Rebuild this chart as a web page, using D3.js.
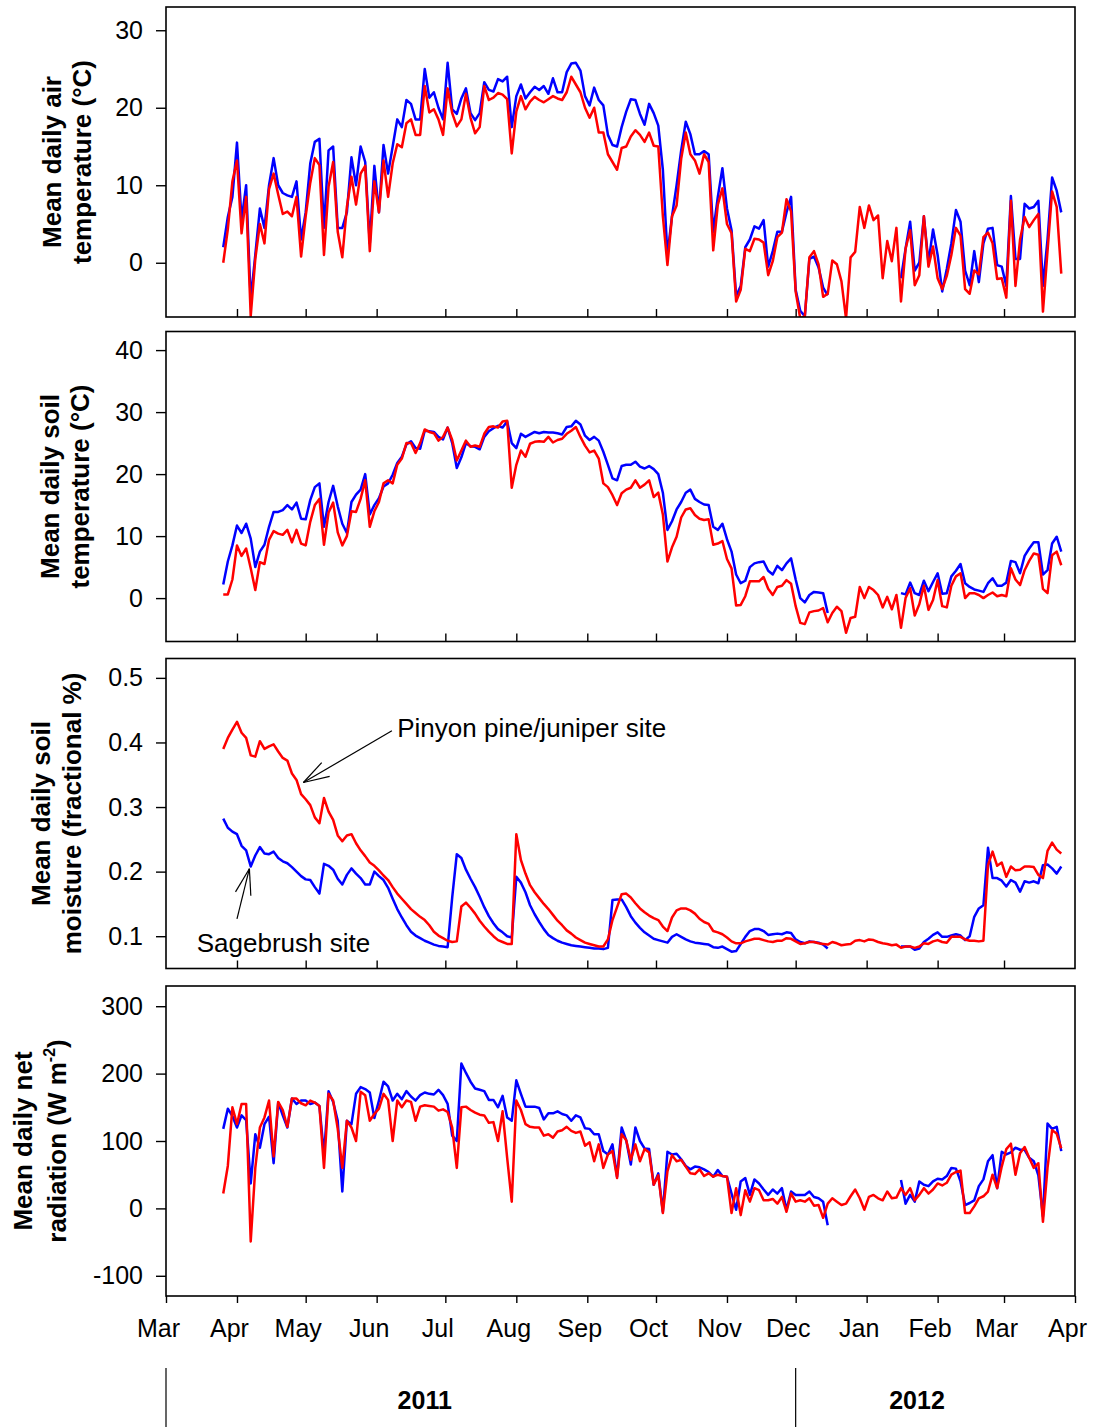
<!DOCTYPE html>
<html><head><meta charset="utf-8">
<script src="https://cdn.jsdelivr.net/npm/d3@7"></script>
<style>
body{margin:0;background:#fff}
text{font-family:"Liberation Sans",Arial,Helvetica,sans-serif;fill:#000}
</style>
</head><body>
<svg id="chart" width="1093" height="1427"></svg>
<script>
// ---- data: one value every 2 days, first day 2011-03-26 ----
const firstDay = [2011, 2, 26];
const stepDays = 2;

const airPJ = [0.0,4.3,10.5,13.2,3.8,8.5,-6.9,0.5,5.0,2.5,
9.5,11.5,8.8,6.3,6.6,6.0,8.5,0.8,6.0,10.3,
13.5,12.6,1.0,9.8,13.0,4.0,0.7,7.2,11.1,7.5,
11.5,12.5,1.5,10.5,6.5,13.2,8.5,12.8,15.3,14.9,
18.0,18.5,16.5,16.5,22.8,19.4,19.8,18.5,16.5,22.5,
19.3,17.6,18.5,21.8,18.7,16.7,17.5,22.8,21.0,21.3,
21.9,21.7,21.1,14.1,19.5,21.5,19.8,20.8,21.4,21.0,
20.7,21.1,21.5,21.2,21.0,22.0,24.0,23.0,22.0,20.0,
18.7,20.0,16.8,16.8,14.0,13.0,12.0,14.8,15.0,16.3,
17.1,16.5,15.6,16.8,15.1,15.0,6.0,-0.3,6.0,7.4,
13.4,16.8,14.0,13.2,11.5,14.0,13.0,1.6,7.5,9.6,
5.0,3.8,-5.0,-3.5,1.8,1.5,3.1,3.0,2.6,-1.6,
0.2,3.3,3.9,8.2,6.6,-3.7,-7.2,-6.9,0.7,1.5,
-0.2,-4.4,-4.0,0.3,-0.2,-2.4,-7.2,0.7,1.4,7.2,
4.5,7.4,5.5,6.1,-2.0,2.8,0.2,4.5,-5.0,1.8,
4.2,-2.9,-1.6,6.0,-0.5,2.1,-2.0,-3.4,-1.7,1.0,
4.5,3.5,-3.4,-4.0,-1.0,-1.5,3.3,3.9,2.5,-2.1,
-2.0,-4.5,8.0,-3.0,3.0,5.9,4.6,5.5,6.3,-6.3,
1.5,9.2,7.2,-1.4];

const airSB = [2.0,5.9,8.5,15.5,5.5,10.0,-4.8,1.0,7.0,4.5,
10.0,13.5,10.0,9.0,8.7,8.5,10.5,3.0,6.5,12.8,
15.6,16.0,4.5,14.5,15.0,4.5,4.5,6.5,13.6,10.0,
15.0,13.0,2.5,12.5,6.5,15.2,11.5,15.0,18.5,17.5,
21.0,20.5,18.5,18.5,25.0,21.3,22.0,20.0,18.5,25.8,
19.8,19.2,21.2,22.5,19.3,18.4,19.3,23.3,22.3,22.1,
23.7,23.4,24.0,17.5,21.5,23.0,21.2,22.0,22.7,22.3,
22.8,21.8,23.8,22.0,22.0,24.6,25.7,25.8,24.8,21.5,
20.3,22.6,21.0,20.3,16.5,15.2,15.0,17.5,19.5,21.1,
21.0,19.2,17.8,20.5,19.3,17.7,12.0,1.0,6.0,10.0,
14.5,18.2,16.6,14.0,14.0,14.4,14.0,4.0,8.5,12.2,
7.0,4.2,-4.3,-3.0,2.0,3.0,4.7,4.4,5.5,-0.5,
1.5,4.0,4.0,6.5,8.5,-3.5,-6.2,-6.9,0.5,0.8,
-0.6,-3.2,-4.2,null,null,null,null,null,null,null,
null,null,null,null,null,null,null,null,-2.0,1.8,
5.3,-1.0,0.0,6.0,0.0,4.3,1.0,-3.7,-0.8,2.5,
6.8,5.3,-1.0,-2.9,1.5,-2.5,2.5,4.4,4.5,-0.3,
-0.5,-3.0,8.6,0.5,0.5,7.6,7.0,7.2,8.0,-3.0,
3.0,11.0,9.3,6.5];

const soilTSB = [2.2,5.9,8.5,11.7,10.5,12.0,9.6,5.0,7.5,8.6,
11.5,13.9,13.9,14.2,15.0,14.3,15.4,12.8,12.7,15.8,
17.9,18.5,11.5,15.5,18.1,14.8,12.0,10.5,15.5,16.7,
17.5,20.0,13.5,15.0,16.1,18.0,18.5,19.9,21.8,22.8,
24.8,25.3,24.2,24.1,27.0,26.9,26.8,26.0,25.6,27.5,
25.0,21.0,22.7,25.0,24.5,24.4,24.0,26.0,26.9,27.4,
27.8,27.5,28.5,25.0,24.2,26.5,26.0,26.4,26.8,26.6,
26.8,26.7,26.7,26.6,26.4,27.6,27.7,28.6,28.0,26.2,
25.5,26.0,25.4,23.6,21.5,19.3,19.0,21.3,21.5,21.5,
22.0,21.2,20.9,21.3,20.8,20.0,17.0,11.0,12.4,14.3,
15.5,17.0,17.5,16.0,15.5,15.1,15.0,11.5,11.0,12.0,
9.5,7.5,3.8,2.4,2.8,5.0,5.6,5.8,5.9,4.4,
3.8,5.2,4.5,5.6,6.4,3.0,0.0,-0.7,0.5,1.0,
0.9,0.8,-2.4,null,null,null,null,null,null,null,
null,null,null,null,null,null,null,null,0.8,0.6,
2.5,0.8,0.5,2.8,1.1,2.6,4.0,0.7,0.8,3.5,
4.4,5.5,2.4,1.8,1.4,1.2,1.0,2.4,3.2,2.0,
2.0,2.5,6.0,5.8,4.0,6.8,8.0,9.0,9.0,3.8,
4.5,8.8,9.9,7.5];

const soilTPJ = [0.6,0.6,3.0,8.5,6.8,8.0,4.8,1.3,5.8,5.5,
9.4,10.8,10.4,10.2,11.0,9.0,11.0,8.8,8.5,12.3,
15.0,16.0,8.6,13.8,15.4,10.6,8.5,10.0,14.0,13.9,
16.0,19.0,11.5,14.0,15.5,18.5,19.0,18.5,21.5,22.5,
25.0,25.0,23.4,25.0,27.2,26.8,26.6,25.4,26.0,27.5,
25.5,22.2,23.8,25.4,24.4,24.6,24.4,26.5,27.6,27.7,
27.5,28.5,28.6,17.8,21.5,23.8,22.8,24.9,25.2,25.3,
25.2,26.0,25.1,25.5,25.7,26.5,27.0,27.6,26.0,24.6,
23.5,23.8,22.5,18.5,17.9,16.6,15.0,16.9,17.5,17.8,
19.0,17.8,18.3,19.0,16.3,17.0,13.5,5.9,8.2,9.9,
13.0,14.3,14.5,13.4,12.8,12.6,12.7,8.6,8.8,9.2,
6.3,4.8,-1.2,-1.1,0.3,2.7,2.7,2.7,3.4,1.5,
0.5,1.8,2.0,2.9,2.3,-1.3,-4.0,-4.2,-2.3,-2.1,
-2.0,-1.6,-3.9,-2.4,-1.4,-2.1,-5.6,-3.2,-3.0,1.8,
0.0,1.8,1.3,0.5,-1.5,0.2,-1.8,0.5,-4.8,0.0,
1.6,-2.8,-1.0,2.0,-1.9,-0.3,2.9,-1.3,-1.5,2.0,
3.5,4.0,0.0,0.8,0.8,0.5,0.0,0.5,0.9,0.3,
0.5,0.3,4.8,3.0,2.1,4.5,6.0,7.2,7.0,1.5,
0.8,6.9,7.5,5.3];

const moistSB = [0.282,0.268,0.262,0.258,0.240,0.233,0.208,0.225,0.238,0.228,
0.227,0.231,0.221,0.216,0.213,0.207,0.200,0.193,0.188,0.187,
0.176,0.166,0.212,0.209,0.203,0.189,0.180,0.195,0.205,0.197,
0.190,0.180,0.180,0.200,0.193,0.187,0.175,0.158,0.142,0.129,
0.117,0.107,0.101,0.097,0.093,0.090,0.087,0.085,0.084,0.083,
0.160,0.227,0.221,0.203,0.189,0.176,0.161,0.145,0.131,0.120,
0.111,0.106,0.100,0.098,0.192,0.183,0.168,0.148,0.134,0.122,
0.111,0.102,0.097,0.093,0.090,0.088,0.086,0.085,0.084,0.083,
0.082,0.081,0.081,0.080,0.082,0.156,0.157,0.157,0.145,0.131,
0.121,0.113,0.106,0.101,0.096,0.094,0.092,0.090,0.099,0.103,
0.099,0.095,0.092,0.090,0.089,0.088,0.087,0.083,0.082,0.084,
0.080,0.076,0.077,0.088,0.099,0.108,0.111,0.111,0.108,0.102,
0.103,0.104,0.103,0.106,0.105,0.095,0.091,0.089,0.092,0.091,
0.090,0.087,0.081,null,null,null,null,null,null,null,
null,null,null,null,null,null,null,null,0.084,0.084,
0.084,0.079,0.081,0.091,0.096,0.102,0.106,0.099,0.099,0.101,
0.103,0.101,0.094,0.100,0.130,0.143,0.148,0.237,0.190,0.190,
0.186,0.177,0.187,0.183,0.169,0.185,0.183,0.185,0.182,0.210,
0.211,0.205,0.197,0.208];

const moistPJ = [0.390,0.407,0.420,0.432,0.415,0.407,0.380,0.378,0.402,0.390,
0.394,0.397,0.386,0.376,0.372,0.352,0.342,0.320,0.312,0.303,
0.284,0.275,0.314,0.293,0.280,0.256,0.247,0.256,0.258,0.244,
0.233,0.224,0.214,0.209,0.202,0.194,0.187,0.176,0.166,0.158,
0.150,0.142,0.136,0.130,0.125,0.117,0.107,0.101,0.097,0.093,
0.091,0.092,0.146,0.152,0.144,0.135,0.124,0.115,0.107,0.100,
0.094,0.091,0.088,0.088,0.258,0.218,0.197,0.179,0.168,0.159,
0.150,0.142,0.133,0.124,0.117,0.109,0.104,0.098,0.094,0.090,
0.088,0.086,0.084,0.084,0.095,0.125,0.145,0.165,0.166,0.160,
0.151,0.143,0.137,0.132,0.128,0.125,0.115,0.108,0.129,0.140,
0.143,0.143,0.140,0.135,0.127,0.122,0.119,0.108,0.106,0.103,
0.098,0.092,0.089,0.089,0.092,0.094,0.096,0.096,0.094,0.092,
0.091,0.093,0.093,0.097,0.096,0.092,0.088,0.089,0.091,0.091,
0.089,0.088,0.087,0.091,0.089,0.086,0.087,0.088,0.093,0.094,
0.092,0.095,0.094,0.091,0.089,0.088,0.086,0.087,0.082,0.084,
0.084,0.082,0.084,0.089,0.088,0.092,0.094,0.091,0.090,0.099,
0.099,0.099,0.095,0.093,0.093,0.092,0.093,0.210,0.231,0.209,
0.214,0.192,0.208,0.202,0.203,0.208,0.208,0.207,0.195,0.190,
0.232,0.245,0.234,0.228];

const radSB = [118,148,137,120,138,131,37,110,90,125,
136,67,157,138,120,163,155,160,160,155,
157,152,80,174,158,130,25,130,125,170,
180,177,172,134,160,188,181,160,170,162,
174,166,160,168,172,170,169,176,168,155,
108,100,215,201,188,178,176,174,161,161,
150,167,135,130,190,170,151,151,151,149,
132,141,141,144,140,138,130,138,135,119,
118,110,110,85,80,95,47,120,101,65,
120,100,89,88,35,52,-5,84,80,81,
73,63,58,62,61,58,54,47,57,48,
47,22,-2,40,45,20,43,37,28,20,
28,22,30,-2,25,20,20,20,25,17,
15,10,-25,null,null,null,null,null,null,null,
null,null,null,null,null,null,null,null,42,7,
20,10,40,35,33,40,44,43,48,60,
59,40,5,8,12,33,43,70,79,30,
84,80,83,90,87,87,75,70,49,-12,
126,118,121,85];

const radPJ = [22,63,150,125,155,155,-49,60,120,135,
160,77,158,146,121,163,163,156,153,160,
157,152,60,170,160,118,60,130,120,100,
173,168,130,140,148,170,161,100,160,150,
160,158,130,151,153,152,151,145,147,143,
120,60,150,151,146,142,139,138,127,128,
100,144,75,10,160,146,125,121,120,120,
108,110,105,114,116,121,115,112,114,93,
98,70,95,60,80,85,45,110,101,72,
95,70,88,83,35,49,-7,55,79,70,
72,62,52,51,58,48,52,47,50,48,
47,-7,30,-10,27,10,30,27,12,12,
14,7,17,-5,22,10,12,10,15,4,
5,-14,7,15,10,5,7,18,28,15,
-2,17,20,15,12,25,15,16,30,20,
30,12,20,30,22,28,37,34,38,50,
54,56,-7,-7,3,15,18,25,50,30,
62,88,96,50,82,91,75,60,67,-20,
60,116,111,89];

const monthLabels = ["Mar","Apr","May","Jun","Jul","Aug","Sep","Oct","Nov","Dec","Jan","Feb","Mar","Apr"];
const yearLabels = ["2011","2012"];

// ---- layout ----
const svg = d3.select("#chart");
const L = 166, R = 1075;
const x = d3.scaleTime().domain([new Date(2011,2,1), new Date(2012,3,1)]).range([L, R]);
const base = new Date(firstDay[0], firstDay[1], firstDay[2]);
const dates = airPJ.map((_, i) => d3.timeDay.offset(base, i * stepDays));
const plainNum = d => String(d);

const panels = [
  {top:7, bottom:317, domain:[-7,33], ticks:[0,10,20,30], fmt:plainNum, sb:airSB, pj:airPJ,
   title:["Mean daily air","temperature (°C)"], tx:[61,91]},
  {top:331.5, bottom:641.5, domain:[-7,43], ticks:[0,10,20,30,40], fmt:plainNum, sb:soilTSB, pj:soilTPJ,
   title:["Mean daily soil","temperature (°C)"], tx:[59,89]},
  {top:658.5, bottom:968.5, domain:[0.05,0.53], ticks:[0.1,0.2,0.3,0.4,0.5], fmt:d3.format(".1f"), sb:moistSB, pj:moistPJ,
   title:["Mean daily soil","moisture (fractional %)"], tx:[50,81]},
  {top:986, bottom:1296, domain:[-130,330], ticks:[-100,0,100,200,300], fmt:plainNum, sb:radSB, pj:radPJ,
   title:["Mean daily net","radiation (W m"], tx:[32,66]}
];

const months = d3.timeMonth.range(new Date(2011,2,1), new Date(2012,3,2));

panels.forEach((p, pi) => {
  const y = d3.scaleLinear().domain(p.domain).range([p.bottom, p.top]);
  p.y = y;
  const g = svg.append("g");
  const cid = "clip" + pi;
  svg.append("clipPath").attr("id", cid).append("rect")
    .attr("x", L).attr("y", p.top).attr("width", R - L).attr("height", p.bottom - p.top);

  const line = d3.line().defined(d => d[1] != null)
    .x(d => x(d[0])).y(d => y(d[1]));
  g.append("path").datum(dates.map((d, i) => [d, p.sb[i]]))
    .attr("clip-path", `url(#${cid})`)
    .attr("d", line).attr("fill", "none").attr("stroke", "#0000ff")
    .attr("stroke-width", 2.5).attr("stroke-linejoin", "round");
  g.append("path").datum(dates.map((d, i) => [d, p.pj[i]]))
    .attr("clip-path", `url(#${cid})`)
    .attr("d", line).attr("fill", "none").attr("stroke", "#ff0000")
    .attr("stroke-width", 2.5).attr("stroke-linejoin", "round");

  // frame
  g.append("rect").attr("x", L).attr("y", p.top).attr("width", R - L).attr("height", p.bottom - p.top)
    .attr("fill", "none").attr("stroke", "#000").attr("stroke-width", 1.6);

  // y axis
  const ya = d3.axisLeft(y).tickValues(p.ticks).tickFormat(p.fmt).tickSize(10).tickPadding(13);
  const yg = g.append("g").attr("transform", `translate(${L},0)`).call(ya);
  yg.select(".domain").remove();
  yg.selectAll(".tick line").attr("stroke", "#000").attr("stroke-width", 1.4);
  yg.selectAll(".tick text").attr("font-size", 25).attr("font-family", "Liberation Sans, Arial, sans-serif").attr("fill", "#111");

  // x ticks
  if (pi < 3) {
    const xa = d3.axisTop(x).tickValues(months.slice(1, -1)).tickSize(8).tickFormat("");
    const xg = g.append("g").attr("transform", `translate(0,${p.bottom})`).call(xa);
    xg.select(".domain").remove();
    xg.selectAll(".tick line").attr("stroke", "#000").attr("stroke-width", 1.4);
  } else {
    const xa = d3.axisBottom(x).tickValues(months).tickSize(7).tickFormat((d, i) => monthLabels[i]).tickPadding(16);
    const xg = g.append("g").attr("transform", `translate(0,${p.bottom})`).call(xa);
    xg.select(".domain").remove();
    xg.selectAll(".tick line").attr("stroke", "#000").attr("stroke-width", 1.4);
    xg.selectAll(".tick text").attr("font-size", 25).attr("font-family", "Liberation Sans, Arial, sans-serif")
      .attr("fill", "#111").attr("dx", -8);
  }

  // y title
  const cy = (p.top + p.bottom) / 2;
  p.title.forEach((t, li) => {
    const tt = svg.append("text")
      .attr("transform", `translate(${p.tx[li]},${cy}) rotate(-90)`)
      .attr("text-anchor", "middle").attr("font-size", 26).attr("font-weight", "bold")
      .text(t);
    if (pi === 3 && li === 1) {
      tt.append("tspan").attr("font-size", 16).attr("dy", -11).text("-2");
      tt.append("tspan").attr("dy", 11).text(")");
    }
  });
});

// ---- annotations in panel 3 ----
const ym = panels[2].y;
const annotations = [
  {label:"Pinyon pine/juniper site", text:[new Date(2011,5,10), 0.409], tail:[new Date(2011,5,7,16), 0.418], tip:[new Date(2011,3,30), 0.338]},
  {label:"Sagebrush site", text:[new Date(2011,2,14,10), 0.076], tail:[new Date(2011,3,1), 0.127], tip:[new Date(2011,3,6,10), 0.2045]}
];
annotations.forEach(a => {
  const tx = x(a.tail[0]), ty = ym(a.tail[1]);
  const hx = x(a.tip[0]), hy = ym(a.tip[1]);
  const ang = Math.atan2(ty - hy, tx - hx);
  const len = 27, spread = 17 * Math.PI / 180;
  const ag = svg.append("g").attr("stroke", "#000").attr("stroke-width", 1.2).attr("fill", "none");
  ag.append("line").attr("x1", tx).attr("y1", ty).attr("x2", hx).attr("y2", hy);
  [ang - spread, ang + spread].forEach(a2 => {
    ag.append("line").attr("x1", hx).attr("y1", hy)
      .attr("x2", hx + len * Math.cos(a2)).attr("y2", hy + len * Math.sin(a2));
  });
  svg.append("text").attr("x", x(a.text[0])).attr("y", ym(a.text[1]))
    .attr("font-size", 26).text(a.label);
});

// ---- year band ----
const yearBounds = [new Date(2011,2,1), new Date(2011,11,1)];
yearBounds.forEach(d => {
  svg.append("line").attr("x1", x(d)).attr("x2", x(d)).attr("y1", 1368).attr("y2", 1427)
    .attr("stroke", "#000").attr("stroke-width", 1.2);
});
const yearCenters = [new Date(2011,5,22), new Date(2012,0,23)];
yearLabels.forEach((t, i) => {
  svg.append("text").attr("x", x(yearCenters[i])).attr("y", 1409)
    .attr("text-anchor", "middle").attr("font-size", 25).attr("font-weight", "bold").text(t);
});
</script>
</body></html>
